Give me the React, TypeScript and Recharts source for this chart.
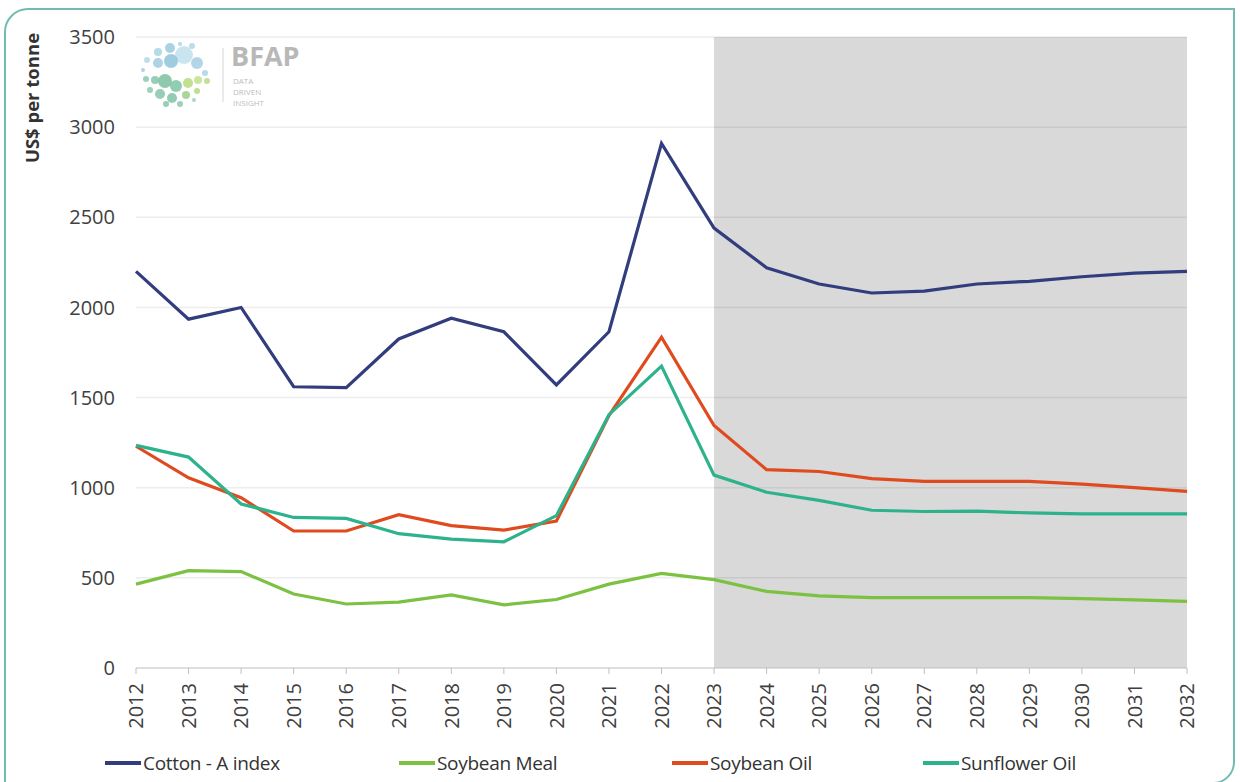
import { LineChart, Line, XAxis, YAxis, ReferenceArea, ReferenceLine } from "recharts";

const years = ["2012", "2013", "2014", "2015", "2016", "2017", "2018", "2019", "2020", "2021", "2022", "2023", "2024", "2025", "2026", "2027", "2028", "2029", "2030", "2031", "2032"];
const cotton = [2200, 1935, 2000, 1560, 1555, 1825, 1940, 1865, 1570, 1865, 2910, 2440, 2220, 2130, 2080, 2090, 2130, 2145, 2170, 2190, 2200];
const soyMeal = [465, 540, 535, 410, 355, 365, 405, 350, 380, 465, 525, 490, 425, 400, 390, 390, 390, 390, 385, 378, 370];
const soyOil = [1230, 1055, 945, 760, 760, 850, 790, 765, 815, 1400, 1835, 1345, 1100, 1090, 1050, 1035, 1035, 1035, 1020, 1000, 980];
const sunOil = [1235, 1170, 910, 835, 830, 745, 715, 700, 845, 1405, 1675, 1070, 975, 930, 875, 868, 870, 860, 855, 855, 855];
const yTicks = [0, 500, 1000, 1500, 2000, 2500, 3000, 3500];

const series = [
  { key: "cotton", name: "Cotton - A index", color: "#323d7e", left: 105 },
  { key: "soyMeal", name: "Soybean Meal", color: "#7cc142", left: 399 },
  { key: "soyOil", name: "Soybean Oil", color: "#df4a1f", left: 672 },
  { key: "sunOil", name: "Sunflower Oil", color: "#2db28c", left: 923 },
];

const data = years.map((y, i) => ({ year: y, cotton: cotton[i], soyMeal: soyMeal[i], soyOil: soyOil[i], sunOil: sunOil[i] }));

// logo dots, purely decorative
const logoDots = [
  [158, 52, 4, "#a9d3e3"], [170, 48, 5, "#9ccadf"], [184, 55, 9, "#bfe0ec"], [171, 61, 7, "#8fc3da"], [158, 63, 5, "#9fcde0"],
  [147, 60, 3, "#b3d9e6"], [197, 63, 6, "#a4cfe1"], [192, 46, 3, "#b0d6e5"], [143, 70, 2, "#9fcde0"], [205, 73, 3, "#a9d3e3"],
  [180, 44, 2, "#a9d3e3"], [146, 79, 3, "#8cc9b0"], [155, 80, 4, "#86c6aa"], [165, 81, 7, "#7cc0a0"], [176, 86, 6, "#7ec4a4"],
  [188, 83, 5, "#b6dc7c"], [198, 80, 4, "#c2e08a"], [207, 81, 3, "#b8dc80"], [150, 90, 3, "#8cc9b0"], [160, 94, 5, "#86c6aa"],
  [172, 98, 5, "#80c3a5"], [186, 95, 4, "#9ad08a"], [197, 91, 3, "#b2da7c"], [166, 104, 3, "#86c6aa"], [180, 104, 3, "#8cc9b0"],
  [194, 100, 2, "#9ad1b8"],
] as const;

const XTick = ({ x, y, payload }: any) => (
  <g transform={`translate(${x},${y})`}>
    <text transform="rotate(-90)" x={-7} y={0} dy="0.36em" textAnchor="end" fill="#404040" fontSize={20} fontFamily="Open Sans">
      {payload.value}
    </text>
  </g>
);

export default function App() {
  return (
    <div style={{ position: "absolute", left: 0, top: 0, width: 1240, height: 782, overflow: "hidden", background: "#fff", fontFamily: "Open Sans" }}>
      <div style={{ position: "absolute", left: 4, top: 8, width: 1227, height: 772, border: "2px solid #72bbb0", borderRadius: "24px 0 22px 0" }} />
      <LineChart width={1240} height={782} data={data} margin={{ top: 37, right: 53, bottom: 0, left: 0 }}>
        <XAxis
          dataKey="year"
          height={114}
          tick={<XTick />}
          tickSize={6}
          axisLine={{ stroke: "#bfbfbf" }}
          tickLine={{ stroke: "#bfbfbf" }}
          interval={0}
        />
        <YAxis
          width={136}
          domain={[0, 3500]}
          ticks={yTicks}
          axisLine={false}
          tickLine={false}
          tickSize={0}
          tickMargin={21}
          tick={{ fill: "#404040", fontSize: 20, fontFamily: "Open Sans" }}
        />
        <ReferenceArea x1="2023" x2="2032" y1={0} y2={3500} fill="#d9d9d9" fillOpacity={1} stroke="none" />
        {yTicks.filter((t) => t > 0).map((t) => (
          <ReferenceLine key={t} y={t} stroke="#000" strokeOpacity={0.07} strokeWidth={1.5} />
        ))}
        {series.map((s) => (
          <Line key={s.key} type="linear" dataKey={s.key} name={s.name} stroke={s.color} strokeWidth={3.2} dot={false} isAnimationActive={false} />
        ))}
      </LineChart>
      <div style={{ position: "absolute", left: 31, top: 98, transform: "translate(-50%, -50%) rotate(-90deg)", whiteSpace: "nowrap", fontWeight: 700, fontSize: 18.5, color: "#333" }}>
        US$ per tonne
      </div>
      <svg style={{ position: "absolute", left: 0, top: 0 }} width={320} height={120}>
        {logoDots.map(([cx, cy, r, c], i) => (
          <circle key={i} cx={cx} cy={cy} r={r} fill={c} opacity={0.85} />
        ))}
        <line x1={223} y1={48} x2={223} y2={102} stroke="#d6d6d6" strokeWidth={1} />
        <text x={231} y={66} fontSize={27} fontWeight={700} fill="#b8b8b8" fontFamily="Open Sans">BFAP</text>
      </svg>
      <div style={{ position: "absolute", left: 233, top: 75, fontSize: 8, lineHeight: "11px", color: "#bdbdbd" }}>
        <div>DATA</div>
        <div>DRIVEN</div>
        <div>INSIGHT</div>
      </div>
      {series.map((s) => (
        <div key={s.key} style={{ position: "absolute", left: s.left, top: 750, display: "flex", alignItems: "center", fontSize: 19, color: "#333", whiteSpace: "nowrap" }}>
          <span style={{ display: "inline-block", width: 36, height: 4, background: s.color, marginRight: 2 }} />
          <span style={{ letterSpacing: -0.3 }}>{s.name}</span>
        </div>
      ))}
    </div>
  );
}
